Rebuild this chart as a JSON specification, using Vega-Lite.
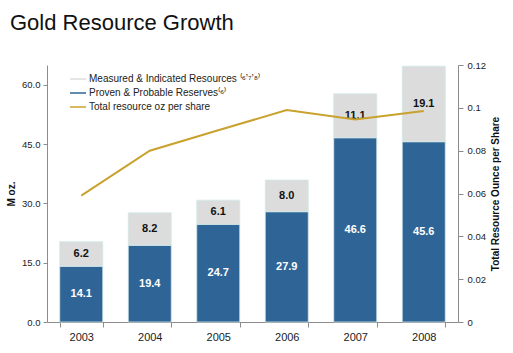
{
  "$schema": "https://vega.github.io/schema/vega-lite/v6.json",
  "width": 411,
  "height": 257,
  "autosize": {"type": "none"},
  "padding": {"left": 47, "top": 65, "right": 55, "bottom": 31},
  "background": "white",
  "title": {"text": "Gold Resource Growth", "anchor": "start", "frame": "group", "dx": -37, "offset": 25, "fontSize": 22, "font": "Liberation Sans", "fontWeight": "normal", "color": "#111111"},
  "config": {
    "view": {"stroke": null},
    "font": "Liberation Sans",
    "axis": {"grid": false, "domainColor": "#8c8c8c", "tickColor": "#8c8c8c", "labelColor": "#222222", "labelFont": "Liberation Sans", "titleFont": "Liberation Sans", "titleColor": "#111111"}
  },
  "datasets": {
    "reserves": [
      {"year": "2003", "series": "Proven & Probable Reserves", "moz": 14.1, "rank": 1},
      {"year": "2004", "series": "Proven & Probable Reserves", "moz": 19.4, "rank": 1},
      {"year": "2005", "series": "Proven & Probable Reserves", "moz": 24.7, "rank": 1},
      {"year": "2006", "series": "Proven & Probable Reserves", "moz": 27.9, "rank": 1},
      {"year": "2007", "series": "Proven & Probable Reserves", "moz": 46.6, "rank": 1},
      {"year": "2008", "series": "Proven & Probable Reserves", "moz": 45.6, "rank": 1},
      {"year": "2003", "series": "Measured & Indicated Resources", "moz": 6.2, "rank": 2},
      {"year": "2004", "series": "Measured & Indicated Resources", "moz": 8.2, "rank": 2},
      {"year": "2005", "series": "Measured & Indicated Resources", "moz": 6.1, "rank": 2},
      {"year": "2006", "series": "Measured & Indicated Resources", "moz": 8.0, "rank": 2},
      {"year": "2007", "series": "Measured & Indicated Resources", "moz": 11.1, "rank": 2},
      {"year": "2008", "series": "Measured & Indicated Resources", "moz": 19.1, "rank": 2}
    ],
    "share": [
      {"year": "2003", "series": "Total resource oz per share", "ozps": 0.059},
      {"year": "2004", "series": "Total resource oz per share", "ozps": 0.080},
      {"year": "2005", "series": "Total resource oz per share", "ozps": 0.0895},
      {"year": "2006", "series": "Total resource oz per share", "ozps": 0.099},
      {"year": "2007", "series": "Total resource oz per share", "ozps": 0.0945},
      {"year": "2008", "series": "Total resource oz per share", "ozps": 0.0985}
    ]
  },
  "layer": [
    {
      "data": {"name": "reserves"},
      "transform": [
        {"stack": "moz", "groupby": ["year"], "sort": [{"field": "rank", "order": "ascending"}], "as": ["m0", "m1"]},
        {"calculate": "(datum.m0 + datum.m1) / 2", "as": "mid"}
      ],
      "layer": [
        {
          "mark": {"type": "bar", "stroke": "#d2e8e8", "strokeWidth": 0.8},
          "encoding": {
            "x": {"field": "year", "type": "nominal", "sort": null, "scale": {"paddingInner": 0.372},
              "axis": {"title": null, "labelAngle": 0, "labelFontSize": 11, "tickBand": "extent", "tickSize": 5, "labelPadding": 4}},
            "y": {"field": "m0", "type": "quantitative", "scale": {"domain": [0, 65], "nice": false},
              "axis": {"title": "M oz.", "values": [0, 15, 30, 45, 60], "format": ".1f", "labelFontSize": 9.5, "tickSize": 4, "labelPadding": 3, "titleFontSize": 10, "titleFontWeight": "bold", "titlePadding": 5}},
            "y2": {"field": "m1"},
            "color": {"field": "series", "type": "nominal",
              "scale": {"domain": ["Measured & Indicated Resources", "Proven & Probable Reserves", "Total resource oz per share"], "range": ["#dcdcdc", "#2f6496", "#c9a22e"]},
              "legend": {"title": null, "orient": "none", "legendX": 22, "legendY": 5, "padding": 0, "labelFontSize": 10, "labelColor": "#222222", "labelFont": "Liberation Sans", "labelLimit": 400, "symbolSize": 256, "rowPadding": -2, "labelOffset": 2,
                "labelExpr": "datum.label == 'Measured & Indicated Resources' ? datum.label + ' ⁽⁶’⁷’⁸⁾' : datum.label == 'Proven & Probable Reserves' ? datum.label + '⁽⁶⁾' : datum.label",
                "symbolType": "stroke",
                "encode": {"symbols": {"update": {
                  "shape": {"value": "stroke"},
                  "stroke": {"scale": "color", "field": "value"},
                  "strokeWidth": {"signal": "datum.value == 'Total resource oz per share' ? 2 : 5"},
                  "opacity": {"value": 1},
                  "strokeOpacity": {"value": 1}
                }}}}
            },
            "order": {"field": "rank"}
          }
        },
        {
          "mark": {"type": "text", "fontWeight": "bold", "fontSize": 11, "font": "Liberation Sans", "baseline": "middle"},
          "encoding": {
            "x": {"field": "year", "type": "nominal", "sort": null},
            "y": {"field": "mid", "type": "quantitative"},
            "text": {"field": "moz", "type": "quantitative", "format": ".1f"},
            "color": {"condition": {"test": "datum.rank == 1", "value": "#ffffff"}, "value": "#111111"}
          }
        }
      ]
    },
    {
      "data": {"name": "share"},
      "mark": {"type": "line", "strokeWidth": 2},
      "encoding": {
        "x": {"field": "year", "type": "nominal", "sort": null},
        "y": {"field": "ozps", "type": "quantitative", "scale": {"domain": [0, 0.12], "nice": false},
          "axis": {"orient": "right", "title": "Total Resource Ounce per Share", "values": [0, 0.02, 0.04, 0.06, 0.08, 0.1, 0.12], "format": ".2~f", "labelFontSize": 9.5, "tickSize": 5, "labelPadding": 4, "titleFontSize": 10, "titleFontWeight": "bold", "titleAngle": 270, "titleBaseline": "top", "titlePadding": 5}},
        "color": {"field": "series", "type": "nominal"}
      }
    }
  ],
  "resolve": {"scale": {"y": "independent"}}
}
